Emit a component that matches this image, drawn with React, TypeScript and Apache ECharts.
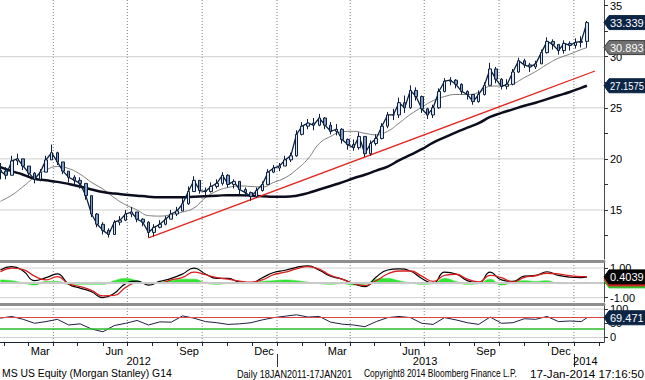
import React, { useEffect, useRef } from "react";
import * as echarts from "echarts";

const DAY = 86400000;
const FIRST_WEEK = Date.UTC(2012, 0, 27);
const AXIS_MIN = Date.UTC(2012, 0, 26, 12);
const AXIS_MAX = Date.UTC(2014, 1, 7);

// Weekly price bars (open = previous close)
const firstOpen = 18.9;
const weekClose = [
  18.8, 18.4, 19.8, 20.0, 19.3, 18.6, 18.0, 18.7, 19.9, 20.6,
  19.7, 18.8, 18.2, 17.9, 17.6, 16.4, 14.6, 13.6, 13.0, 12.6,
  13.8, 14.0, 14.6, 14.8, 14.1, 13.8, 12.8, 13.3, 13.6, 14.1,
  14.6, 14.9, 15.6, 16.8, 17.9, 16.9, 16.8, 17.3, 17.6, 18.4,
  17.5, 17.8, 17.0, 16.7, 16.3, 16.9, 17.5, 18.7, 19.1, 19.3,
  19.9, 20.3, 22.4, 23.2, 23.5, 23.3, 24.0, 23.3, 22.7, 22.9,
  21.9, 21.4, 21.1, 22.2, 20.5, 21.5, 22.0, 23.2, 24.3, 24.3,
  25.5, 25.0, 26.7, 26.1, 24.9, 24.3, 25.0, 26.6, 27.6, 27.7,
  27.3, 26.6, 26.3, 25.6, 26.3, 27.2, 28.8, 27.8, 27.1, 27.3,
  28.5, 29.6, 29.2, 29.0, 29.3, 30.4, 31.5, 31.2, 30.6, 31.3,
  31.1, 31.4, 31.5, 33.339,
];
const weekHigh = [
  19.6, 19.2, 20.3, 20.5, 19.9, 19.3, 18.7, 19.0, 20.3, 21.4,
  20.7, 19.7, 18.8, 18.4, 18.2, 17.5, 16.3, 14.7, 13.8, 13.2,
  14.0, 14.4, 15.0, 15.3, 14.8, 14.2, 13.9, 13.6, 14.0, 14.4,
  15.0, 15.3, 16.2, 17.3, 18.3, 17.9, 17.2, 17.7, 18.0, 18.7,
  18.5, 18.0, 17.8, 17.2, 16.8, 17.2, 17.8, 19.0, 19.4, 19.6,
  20.3, 20.6, 22.8, 23.6, 23.9, 24.0, 24.4, 24.1, 23.6, 23.4,
  23.0, 22.0, 21.9, 22.6, 22.0, 21.8, 22.4, 23.5, 24.6, 24.9,
  26.0, 26.2, 27.2, 27.0, 26.2, 25.0, 25.3, 26.9, 27.9, 28.0,
  27.8, 27.4, 26.7, 26.3, 26.7, 27.5, 29.4, 29.0, 27.9, 27.8,
  28.8, 29.9, 29.8, 29.4, 29.6, 30.7, 31.9, 31.7, 31.2, 31.6,
  31.5, 31.8, 32.0, 33.5,
];
const weekLow = [
  18.0, 18.0, 18.6, 19.4, 18.9, 18.3, 17.6, 17.8, 18.8, 19.9,
  19.4, 18.5, 17.7, 17.4, 17.1, 16.0, 14.3, 13.3, 12.6, 12.3,
  12.7, 13.5, 13.9, 14.3, 13.8, 13.4, 12.3, 12.4, 13.2, 13.5,
  14.1, 14.4, 14.9, 15.5, 16.9, 16.6, 16.4, 16.7, 17.1, 17.4,
  17.2, 17.1, 16.5, 16.3, 15.9, 16.2, 16.8, 17.5, 18.6, 18.8,
  19.3, 19.7, 20.2, 22.3, 22.9, 22.8, 23.2, 22.9, 22.4, 22.3,
  21.5, 20.9, 20.8, 20.9, 20.2, 20.3, 21.3, 21.9, 23.0, 23.8,
  24.0, 24.5, 24.9, 25.7, 24.5, 23.9, 24.0, 24.9, 26.5, 27.2,
  26.9, 26.3, 25.8, 25.3, 25.5, 26.2, 27.2, 27.4, 26.8, 26.8,
  27.2, 28.4, 28.9, 28.5, 28.8, 29.3, 30.3, 30.7, 30.2, 30.3,
  30.6, 30.8, 30.9, 30.9,
];

// Indicators read every second week (weeks 0,2,...,102 and 103)
const ma50 = [
  15.85, 16.45, 17.3, 18.2, 18.9, 19.25, 19.05, 18.5, 17.7, 17.05,
  16.2, 15.5, 15.0, 14.45, 14.4, 14.55, 14.8, 15.2, 16.2, 16.85,
  17.2, 17.35, 17.3, 17.25, 17.7, 18.15, 18.95, 20.0, 21.5, 22.2,
  22.65, 22.7, 22.5, 22.35, 22.7, 23.5, 24.35, 25.05, 25.7, 26.1,
  26.3, 26.3, 26.5, 27.1, 27.15, 27.35, 27.95, 28.55, 29.25, 29.85,
  30.25, 30.7, 30.893,
];
const ma200 = [
  19.2, 18.8, 18.45, 18.05, 17.9, 17.75, 17.55, 17.3, 17.0, 16.75,
  16.6, 16.5, 16.4, 16.3, 16.25, 16.25, 16.25, 16.3, 16.35, 16.4,
  16.45, 16.45, 16.4, 16.35, 16.3, 16.3, 16.4, 16.65, 17.0, 17.35,
  17.7, 18.1, 18.45, 18.85, 19.25, 19.85, 20.4, 20.95, 21.6, 22.1,
  22.6, 23.05, 23.5, 24.1, 24.5, 24.85, 25.2, 25.5, 25.85, 26.2,
  26.55, 26.95, 27.1575,
];
const macdLine = [
  0.87, 1.1, 0.8, 0.15, 0.35, 0.6, -0.1, -0.35, -0.6, -1.0,
  -0.7, -0.05, 0.12, -0.15, 0.1, 0.3, 0.6, 1.0, 0.6, 0.3,
  0.3, 0.05, 0.0, 0.35, 0.7, 0.85, 1.05, 1.15, 0.85, 0.45,
  0.25, -0.05, -0.25, 0.4, 0.87, 0.95, 0.8, 0.3, -0.03, 0.72,
  0.6, 0.15, -0.03, 0.72, 0.2, 0.1, 0.45, 0.5, 0.75, 0.5,
  0.38, 0.35, 0.4039,
];
const macdSignal = [
  0.75, 1.0, 0.9, 0.45, 0.2, 0.42, -0.07, -0.25, -0.5, -0.88,
  -0.85, -0.3, 0.0, 0.0, 0.0, 0.2, 0.37, 0.72, 0.55, 0.35,
  0.25, 0.12, 0.05, 0.2, 0.55, 0.72, 0.95, 1.1, 0.92, 0.5,
  0.26, -0.05, -0.18, 0.15, 0.6, 0.8, 0.8, 0.45, 0.1, 0.5,
  0.58, 0.25, 0.06, 0.5, 0.35, 0.06, 0.37, 0.48, 0.65, 0.6,
  0.48, 0.42, 0.42,
];
const macdHist = [
  0.2, 0.15, 0.0, -0.15, 0.1, 0.1, -0.1, -0.1, -0.1, -0.1,
  0.15, 0.3, 0.15, -0.05, 0.05, 0.15, 0.25, 0.25, 0.0, -0.1,
  -0.05, -0.05, 0.0, 0.1, 0.15, 0.2, 0.15, 0.05, -0.05, -0.1,
  -0.05, -0.15, -0.1, 0.25, 0.3, 0.15, 0.0, -0.1, -0.05, 0.3,
  0.1, -0.1, -0.05, 0.25, -0.15, 0.05, 0.15, 0.1, 0.15, -0.05,
  -0.05, 0.0, 0.05,
];
const rsi = [
  68, 74, 64, 50, 56, 64, 44, 48, 30, 20,
  42, 50, 60, 44, 55, 54, 76, 68, 56, 52,
  46, 48, 52, 62, 70, 75, 80, 72, 74, 54,
  47, 44, 38, 56, 70, 74, 70, 50, 46, 70,
  62, 52, 46, 72, 50, 52, 66, 64, 74, 56,
  58, 56, 69.471,
];

const trendDates = ["2012-07-27", "2014-01-27"];
const trendValues = [12.26, 28.6];

const priceLabels = [15, 20, 25, 30, 35];
const priceTicks = [12.5, 15, 17.5, 20, 22.5, 25, 27.5, 30, 32.5, 35];
const priceGrid = [15, 20, 25, 30];
const macdLabels = [1, -1];
const rsiLabels = [0, 50, 100];
const rsiGrid = [0, 100];
const rsiUpper = 70;
const rsiLower = 30;

const monthNames = ["Jan", "Feb", "Mar", "Apr", "May", "Jun", "Jul", "Aug", "Sep", "Oct", "Nov", "Dec"];
const monthLabelDates = ["2012-03-16", "2012-06-15", "2012-09-15", "2012-12-16", "2013-03-16", "2013-06-15", "2013-09-15", "2013-12-16"];
const yearLabelDates = ["2012-07-15", "2013-07-02", "2014-01-15"];
const yearBreaks = ["2013-01-01", "2014-01-01"];
const quarterLines = ["2012-04-01", "2012-07-01", "2012-10-01", "2013-01-01", "2013-04-01", "2013-07-01", "2013-10-01", "2014-01-01"];

const lastPrice = 33.339;
const lastMa50 = 30.893;
const lastMa200 = 27.1575;
const lastMacd = 0.4039;
const lastRsi = 69.471;

const footer = [
  { text: "MS US Equity (Morgan Stanley) G14", x: 2, w: 170 },
  { text: "Daily 18JAN2011-17JAN201", x: 237, w: 115 },
  { text: "Copyright8 2014 Bloomberg Finance L.P.", x: 364, w: 153 },
  { text: "17-Jan-2014 17:16:50", x: 530, w: 114 },
];

const FONT = '"Liberation Sans", Arial, sans-serif';

// panel ranges
const PRICE_MIN = 10.2, PRICE_MAX = 35.55;
const MACD_MIN = -1.29, MACD_MAX = 1.475;
const RSI_MIN = -16, RSI_MAX = 118;

export default function App() {
  const ref = useRef<HTMLDivElement>(null);
  useEffect(() => {
    if (!ref.current) return;
    const chart = echarts.init(ref.current, null, { renderer: "svg" });
    const weekTime = (w: number) => FIRST_WEEK + w * 7 * DAY;
    const sampleWeeks = Array.from({ length: 52 }, (_, i) => i * 2).concat([103]);
    const pairs = (arr: number[]) => arr.map((v, i) => [weekTime(sampleWeeks[i]), v]);
    const candles = weekClose.map((c, i) => {
      const o = i === 0 ? firstOpen : weekClose[i - 1];
      return [weekTime(i), o, c, Math.min(weekLow[i], o, c), Math.max(weekHigh[i], o, c)];
    });
    const closeLine = weekClose.map((c, i) => [weekTime(i), c]);
    const monthTicks: number[] = [];
    for (let m = 1; m <= 25; m++) monthTicks.push(Date.UTC(2012, m, 1));

    const ctx = document.createElement("canvas").getContext("2d")!;
    const measure = (text: string, font: string) => {
      ctx.font = font;
      return ctx.measureText(text).width;
    };

    // grid lines: one line series per grid line (vertical dotted, horizontal light solid)
    const V_STYLE = { color: "#7e7e7e", width: 1, type: [1, 2] };
    const H_STYLE = { color: "#cfcfcf", width: 1, type: "solid" };
    const gridSeries = (gi: number, xi: number, lo: number, hi: number, levels: number[]) => {
      const lines: any[] = [];
      quarterLines.forEach((d) => {
        const t = Date.parse(d);
        lines.push({ data: [[t, lo], [t, hi]], style: V_STYLE });
      });
      levels.forEach((v) => lines.push({ data: [[AXIS_MIN, v], [AXIS_MAX, v]], style: H_STYLE }));
      return lines.map((l) => ({
        type: "line", xAxisIndex: xi, yAxisIndex: gi, z: 1, silent: true,
        data: l.data, symbol: "none", clip: false,
        lineStyle: { ...l.style },
        emphasis: { disabled: true },
      }));
    };
    const mk = (data: any[]) => ({
      silent: true,
      symbol: ["none", "none"],
      label: { show: false },
      emphasis: { disabled: true },
      data,
    });

    const hiddenX = (gi: number) => ({
      gridIndex: gi, type: "value", min: AXIS_MIN, max: AXIS_MAX, show: false,
    });
    const barX = (gi: number) => ({
      gridIndex: gi, type: "value", min: AXIS_MIN, max: AXIS_MAX, position: "top",
      axisLine: { show: true, onZero: false, lineStyle: { color: "#8e8e8e", width: 3 } },
      axisTick: { show: false }, axisLabel: { show: false }, splitLine: { show: false },
    });
    const rightY = (gi: number, min: number, max: number, labels: number[], ticks: number[], fmt: (v: number) => string) => ({
      gridIndex: gi, type: "value", position: "right", min, max,
      axisLine: { show: true, onZero: false, lineStyle: { color: "#4a4a4a", width: 1 } },
      axisTick: { show: true, length: 4, customValues: ticks, lineStyle: { color: "#333" } },
      axisLabel: { customValues: labels, formatter: fmt, color: "#000", fontSize: 11, fontFamily: FONT, margin: 6, padding: [4, 0, 0, 0] },
      splitLine: { show: false },
    });

    chart.setOption({
      animation: false,
      textStyle: { fontFamily: FONT },
      grid: [
        { left: 0, top: 0, width: 604, height: 259 },
        { left: 0, top: 261, width: 604, height: 41 },
        { left: 0, top: 304, width: 604, height: 38 },
      ],
      xAxis: [
        hiddenX(0),
        barX(1),
        barX(2),
        {
          gridIndex: 2, type: "value", min: AXIS_MIN, max: AXIS_MAX, position: "bottom",
          axisLine: { show: true, onZero: false, lineStyle: { color: "#1c2233", width: 1 } },
          axisTick: { show: true, customValues: monthTicks, length: 4, lineStyle: { color: "#1c2233" } },
          axisLabel: {
            customValues: monthLabelDates.map((d) => Date.parse(d)),
            formatter: (v: number) => monthNames[new Date(v).getUTCMonth()],
            color: "#000", fontSize: 11, margin: 3, fontFamily: FONT,
          },
          splitLine: { show: false },
        },
        {
          gridIndex: 2, type: "value", min: AXIS_MIN, max: AXIS_MAX, position: "bottom", offset: 12,
          axisLine: { show: false, onZero: false },
          axisTick: { show: true, customValues: yearBreaks.map((d) => Date.parse(d)), length: 13, lineStyle: { color: "#333" } },
          axisLabel: {
            customValues: yearLabelDates.map((d) => Date.parse(d)),
            formatter: (v: number) => String(new Date(v).getUTCFullYear()),
            color: "#000", fontSize: 11, margin: 1, fontFamily: FONT,
          },
          splitLine: { show: false },
        },
      ],
      yAxis: [
        rightY(0, PRICE_MIN, PRICE_MAX, priceLabels, priceTicks, (v) => String(v)),
        rightY(1, MACD_MIN, MACD_MAX, macdLabels, [1, 0, -1], (v) => v.toFixed(2)),
        rightY(2, RSI_MIN, RSI_MAX, rsiLabels, rsiLabels, (v) => String(v)),
      ],
      series: [
        ...gridSeries(0, 0, PRICE_MIN, PRICE_MAX, priceGrid),
        ...gridSeries(1, 1, MACD_MIN, MACD_MAX, macdLabels),
        ...gridSeries(2, 3, RSI_MIN, RSI_MAX, rsiGrid),
        {
          type: "line", xAxisIndex: 0, yAxisIndex: 0, z: 3, data: pairs(ma50),
          smooth: true, symbol: "none", lineStyle: { color: "#7c7c7c", width: 1 },
        },
        {
          type: "line", xAxisIndex: 0, yAxisIndex: 0, z: 3, data: pairs(ma200),
          smooth: true, symbol: "none", lineStyle: { color: "#0b0d1c", width: 2.5 },
        },
        {
          type: "line", xAxisIndex: 0, yAxisIndex: 0, z: 3,
          data: trendDates.map((d, i) => [Date.parse(d), trendValues[i]]),
          symbol: "none", lineStyle: { color: "#e4261f", width: 1.3 },
        },
        {
          type: "line", xAxisIndex: 0, yAxisIndex: 0, z: 4, data: closeLine,
          symbol: "none", lineStyle: { color: "#0d1f3e", width: 1.3 },
        },
        {
          type: "candlestick", xAxisIndex: 0, yAxisIndex: 0, z: 5, data: candles,
          barWidth: 3,
          itemStyle: {
            color: "#d8e3f1", color0: "#7f9ac2",
            borderColor: "#0d1f3e", borderColor0: "#0d1f3e", borderWidth: 1,
          },
        },
        {
          type: "line", xAxisIndex: 1, yAxisIndex: 1, z: 2, data: pairs(macdHist),
          smooth: true, symbol: "none",
          lineStyle: { color: "#2fe02f", width: 0.5 },
          areaStyle: { color: "#33e433", opacity: 1 },
          markLine: mk([
            { yAxis: 0, lineStyle: { color: "#c9c9c9", width: 2, type: "solid" } },
          ]),
        },
        {
          type: "line", xAxisIndex: 1, yAxisIndex: 1, z: 3, data: pairs(macdLine),
          smooth: true, symbol: "none", lineStyle: { color: "#000", width: 1.2 },
        },
        {
          type: "line", xAxisIndex: 1, yAxisIndex: 1, z: 4, data: pairs(macdSignal),
          smooth: true, symbol: "none", lineStyle: { color: "#d81e1e", width: 1.3 },
        },
        {
          type: "line", xAxisIndex: 3, yAxisIndex: 2, z: 3, data: pairs(rsi),
          symbol: "none", lineStyle: { color: "#1e1e46", width: 1 },
          markLine: mk([
            { yAxis: rsiUpper, lineStyle: { color: "#d44", width: 1.2, type: "solid" } },
            { yAxis: rsiLower, lineStyle: { color: "#2dbd2d", width: 1.5, type: "solid" } },
          ]),
        },
      ],
    });

    const TAG_FONT = `11px ${FONT}`;
    const tag = (yAxisIndex: number, value: number, text: string, fill: string, stroke?: string, dy = 0) => {
      const y = (chart.convertToPixel({ yAxisIndex } as any, value) as number) + dy;
      const w = text ? measure(text, TAG_FONT) : 1;
      const sx = Math.min(1, 34 / w);
      return {
        type: "group", x: 604, y, z: 100,
        children: [
          {
            type: "polygon", z: 100,
            shape: { points: [[0, 0], [5, -7], [41, -7], [41, 7], [5, 7]] },
            style: { fill, stroke: stroke || fill, lineWidth: 1 },
          },
          {
            type: "text", x: 6, y: 0, z: 101, scaleX: sx,
            style: { text, fill: "#fff", font: TAG_FONT, textAlign: "left", verticalAlign: "middle" },
          },
        ],
      };
    };
    const FOOT_FONT = `10px ${FONT}`;
    const footerEls = footer.map((f) => {
      const w = measure(f.text, FOOT_FONT);
      return {
        type: "text", x: f.x, y: 374, z: 100, scaleX: f.w / w,
        style: { text: f.text, fill: "#000", font: FOOT_FONT, textAlign: "left", verticalAlign: "middle" },
      };
    });
    chart.setOption({
      graphic: [
        tag(0, lastPrice, "33.339", "#0d2545"),
        tag(0, lastMa50, "30.893", "#727272", "#3c3c3c"),
        tag(0, lastMa200, "27.1575", "#0d2545"),
        tag(1, lastMacd, "", "#2fc42f", undefined, 4),
        tag(1, lastMacd, "", "#d42020", undefined, 2),
        tag(1, lastMacd, "0.4039", "#050505"),
        tag(2, lastRsi, "69.471", "#0d2545"),
        ...footerEls,
      ],
    });
    return () => chart.dispose();
  }, []);
  return <div ref={ref} style={{ position: "fixed", left: 0, top: 0, width: 645, height: 380, background: "#fff" }} />;
}
